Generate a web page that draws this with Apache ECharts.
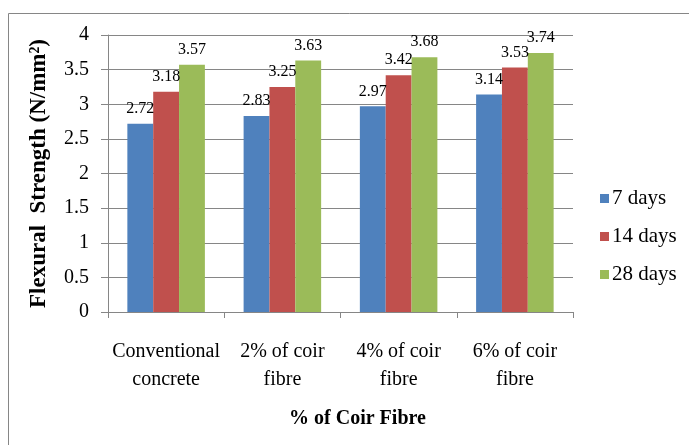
<!DOCTYPE html>
<html><head><meta charset="utf-8">
<script src="https://cdn.jsdelivr.net/npm/echarts@6/dist/echarts.min.js"></script>
<style>html,body{margin:0;padding:0;background:#fff}#c{width:689px;height:445px}</style>
</head><body><div id="c"></div>
<script>
const categories = ['Conventional\nconcrete', '2% of coir\nfibre', '4% of coir\nfibre', '6% of coir\nfibre'];
const seriesNames = ['7 days', '14 days', '28 days'];
const days7 = [2.72, 2.83, 2.97, 3.14];
const days14 = [3.18, 3.25, 3.42, 3.53];
const days28 = [3.57, 3.63, 3.68, 3.74];
const colors = ['#4F81BD', '#C0504D', '#9BBB59'];
const serif = '"Liberation Serif", "Times New Roman", serif';

const chart = echarts.init(document.getElementById('c'));
const mk = (name, data, color) => ({
  name, type: 'bar', data, barGap: '0%', barCategoryGap: '33.3%',
  itemStyle: { color },
  label: { show: true, position: 'top', distance: 7, fontFamily: serif, fontSize: 16, color: '#000' }
});
chart.setOption({
  animation: false,
  graphic: [{ type: 'rect', shape: { x: 8.5, y: 13.5, width: 700, height: 460 }, style: { fill: 'none', stroke: '#868686', lineWidth: 1 } }],
  grid: { left: 108, right: 116, top: 35, bottom: 133 },
  legend: {
    orient: 'vertical', left: 595, top: 183, itemGap: 17, itemWidth: 9, itemHeight: 9,
    icon: 'rect', textStyle: { fontFamily: serif, fontSize: 21, color: '#000', padding: [0,0,0,-2] },
    data: seriesNames
  },
  xAxis: {
    type: 'category', data: categories,
    axisLine: { lineStyle: { color: '#868686' } },
    axisTick: { show: true, length: 6, lineStyle: { color: '#868686' } },
    axisLabel: { fontFamily: serif, fontSize: 20, color: '#000', lineHeight: 28, margin: 26, interval: 0 },
    name: '% of Coir Fibre', nameLocation: 'middle', nameGap: 97,
    nameTextStyle: { fontFamily: serif, fontSize: 20, fontWeight: 'bold', color: '#000', padding: [0, 0, 0, 34] }
  },
  yAxis: {
    type: 'value', min: 0, max: 4, interval: 0.5,
    axisLine: { show: true, lineStyle: { color: '#868686' } },
    axisTick: { show: true, length: 7, lineStyle: { color: '#868686' } },
    splitLine: { lineStyle: { color: '#868686' } },
    axisLabel: { fontFamily: serif, fontSize: 20, color: '#000', margin: 19 },
    name: 'Flexural  Strength (N/mm²)', nameLocation: 'middle', nameGap: 57,
    nameTextStyle: { fontFamily: serif, fontSize: 23, fontWeight: 'bold', color: '#000' }
  },
  series: [mk(seriesNames[0], days7, colors[0]), mk(seriesNames[1], days14, colors[1]), mk(seriesNames[2], days28, colors[2])]
});
</script></body></html>
